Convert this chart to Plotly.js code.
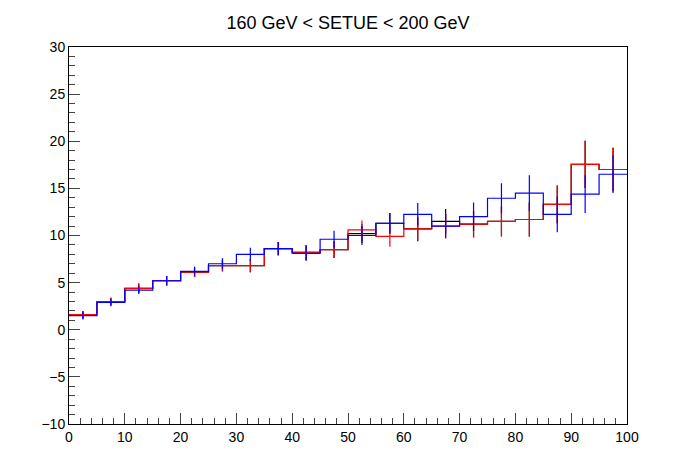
<!DOCTYPE html><html><head><script src="https://cdn.plot.ly/plotly-3.0.1.min.js"></script></head><body style="margin:0">
<div id="c" style="width:696px;height:472px"></div>
<script>
const edges=[0,5,10,15,20,25,30,35,40,45,50,55,60,65,70,75,80,85,90,95,100];
const redVals=[1.6,3.0,4.4,5.2,6.1,6.8,6.8,8.6,8.2,8.5,10.6,9.9,10.7,11.0,11.2,11.5,11.7,13.3,17.55,17.0];
const redErr=[0.4,0.4,0.5,0.5,0.5,0.6,0.7,0.7,0.8,0.9,1.0,1.1,1.2,1.3,1.4,1.6,1.8,2.0,2.5,2.3];
const blueVals=[1.5,2.9,4.2,5.2,6.2,7.0,8.0,8.6,8.1,9.6,10.0,11.3,12.25,11.0,12.0,13.95,14.5,12.25,14.4,16.5];
const blueErr=[0.4,0.4,0.4,0.5,0.5,0.6,0.7,0.7,0.8,0.9,1.0,1.1,1.2,1.3,1.5,1.6,1.9,1.9,2.0,2.0];
const blackVals=[1.6,3.0,4.4,5.2,6.1,6.8,6.8,8.6,8.2,8.5,10.2,11.3,10.7,11.5,11.2,11.5,11.7,13.3,17.55,17.0];
const blackErr=[0.4,0.4,0.5,0.5,0.5,0.6,0.7,0.7,0.8,0.9,1.0,1.1,1.3,1.3,1.4,1.6,1.8,2.0,2.5,2.3];
const centers=edges.slice(0,-1).map((e,i)=>(e+edges[i+1])/2);
function series(vals,err,color){
  return [{x:edges,y:vals.concat([vals[vals.length-1]]),mode:'lines',line:{shape:'hv',color:color,width:1.2},hoverinfo:'skip'},
  {x:centers,y:vals,mode:'markers',marker:{size:1,color:color},error_y:{type:'data',array:err,color:color,thickness:1.2,width:0}}];
}
const data=[].concat(series(blackVals,blackErr,'#000000'),series(redVals,redErr,'#ff0000'),series(blueVals,blueErr,'#0000ff'));
Plotly.newPlot('c',data,{
  width:696,height:472,showlegend:false,paper_bgcolor:'#fff',plot_bgcolor:'#fff',
  margin:{l:69,r:69,t:47,b:48},
  title:{text:'160 GeV < SETUE < 200 GeV',x:0.5,y:0.965,font:{family:'Liberation Sans, Arial',size:18,color:'#000'}},
  font:{family:'Liberation Sans, Arial',size:14,color:'#000'},
  xaxis:{range:[0,100],dtick:10,ticks:'inside',ticklen:11,showgrid:false,zeroline:false,showline:true,mirror:true,linecolor:'#000',
    minor:{dtick:2,ticks:'inside',ticklen:6,showgrid:false}},
  yaxis:{range:[-10,30],dtick:5,ticks:'inside',ticklen:11,showgrid:false,zeroline:false,showline:true,mirror:true,linecolor:'#000',
    minor:{dtick:1,ticks:'inside',ticklen:6,showgrid:false}}
},{staticPlot:true});
</script></body></html>
